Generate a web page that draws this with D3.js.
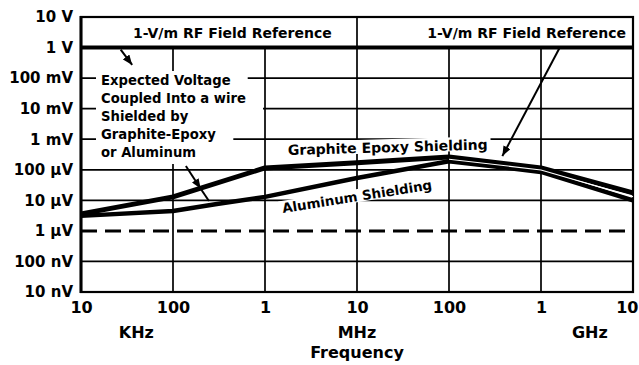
<!DOCTYPE html>
<html>
<head>
<meta charset="utf-8">
<script src="https://cdn.jsdelivr.net/npm/d3@7/dist/d3.min.js"></script>
<style>
  html, body { margin: 0; padding: 0; background: #fff; }
  svg { display: block; }
</style>
</head>
<body>
<svg id="chart" width="639" height="365"></svg>
<script>
// ---- data -------------------------------------------------------------
const freqTicks  = [1e4, 1e5, 1e6, 1e7, 1e8, 1e9, 1e10];          // Hz
const freqLabels = ["10", "100", "1", "10", "100", "1", "10"];
const unitLabels = ["KHz", "MHz", "GHz"];
const unitFreqs  = [4e4, 1e7, 3.4e9];

const voltTicks  = [10, 1, 0.1, 0.01, 1e-3, 1e-4, 1e-5, 1e-6, 1e-7, 1e-8];
const voltLabels = ["10 V", "1 V", "100 mV", "10 mV", "1 mV",
                    "100 \u03bcV", "10 \u03bcV", "1 \u03bcV", "100 nV", "10 nV"];
const gridVolts  = [0.1, 0.01, 1e-3, 1e-4, 1e-5, 1e-7];

const fieldReference = 1;      // 1-V/m RF field reference level (V)
const floorLevel     = 1e-6;   // dashed 1 µV level

// coupled voltage (V) vs frequency (Hz)
const graphiteFreq = [1e4, 1e5, 1e6, 1e7, 1e8, 1e9, 1e10];
const graphiteVolt = [3.6e-6, 1.3e-5, 1.15e-4, 1.7e-4, 2.6e-4, 1.15e-4, 1.75e-5];

const aluminumFreq = [1e4, 1e5, 3e5, 1e6, 1e7, 1e8, 1e9, 1e10];
const aluminumVolt = [3.1e-6, 4.5e-6, 7.6e-6, 1.3e-5, 5.4e-5, 1.9e-4, 8.5e-5, 1.0e-5];

const noteLines = ["Expected Voltage", "Coupled Into a wire", "Shielded by",
                   "Graphite-Epoxy", "or Aluminum"];

// ---- scales -----------------------------------------------------------
const W = 639;
const svg = d3.select("#chart");
const x = d3.scaleLog().domain([1e4, 1e10]).range([81, 633]);
const y = d3.scaleLog().domain([1e-8, 10]).range([292, 17]);
const FONT = "'DejaVu Sans', Verdana, sans-serif";

const defs = svg.append("defs");
defs.append("marker")
  .attr("id", "head").attr("viewBox", "0 0 10 8")
  .attr("refX", 10).attr("refY", 4)
  .attr("markerWidth", 10).attr("markerHeight", 8)
  .attr("markerUnits", "userSpaceOnUse").attr("orient", "auto")
  .append("path").attr("d", "M0,0L10,4L0,8Z").attr("fill", "#000");

// ---- grid -------------------------------------------------------------
const grid = svg.append("g");
grid.selectAll("line.v").data(freqTicks).join("line")
  .attr("class", "v")
  .attr("x1", d => x(d)).attr("x2", d => x(d))
  .attr("y1", y(10)).attr("y2", y(1e-8))
  .attr("stroke", "#000").attr("stroke-width", 1.7);
grid.selectAll("line.h").data(gridVolts).join("line")
  .attr("class", "h")
  .attr("x1", x(1e4)).attr("x2", x(1e10))
  .attr("y1", d => y(d)).attr("y2", d => y(d))
  .attr("stroke", "#000").attr("stroke-width", 1.7);

// ---- labels with white backing --------------------------------------
function backedText(parent, txt, size, padX, padTop, padBottom, anchor) {
  const g = parent.append("g");
  const t = g.append("text").text(txt)
    .attr("font-family", FONT).attr("font-weight", "bold")
    .attr("font-size", size).attr("text-anchor", anchor || "start")
    .attr("fill", "#000");
  const b = t.node().getBBox();
  g.insert("rect", () => t.node())
    .attr("x", b.x - padX[0]).attr("y", b.y - padTop)
    .attr("width", b.width + padX[0] + padX[1])
    .attr("height", b.height + padTop + padBottom)
    .attr("fill", "#fff");
  return g;
}

// header labels between the 10 V border and the 1 V reference
const headerY = 38;
const hdr1 = backedText(svg, "1-V/m RF Field Reference", 14, [6, 6], 8, 6, "start");
hdr1.attr("transform", `translate(133,${headerY})`);
const hdr2 = backedText(svg, "1-V/m RF Field Reference", 14, [6, 6], 8, 6, "end");
hdr2.attr("transform", `translate(626,${headerY})`);

// explanatory note on the left
const note = svg.append("g");
const noteRects = note.append("g");
const noteTexts = note.append("g");
noteLines.forEach((line, i) => {
  const t = noteTexts.append("text").text(line)
    .attr("x", 101).attr("y", 85 + i * 18)
    .attr("font-family", FONT).attr("font-weight", "bold")
    .attr("font-size", 13.2).attr("fill", "#000");
  const b = t.node().getBBox();
  noteRects.append("rect")
    .attr("x", b.x - 5).attr("y", b.y - 2)
    .attr("width", b.width + 22).attr("height", b.height + 6)
    .attr("fill", "#fff");
});

// curve labels
const gLab = backedText(svg, "Graphite Epoxy Shielding", 14, [3, 3], 0, -2);
gLab.attr("transform", "translate(288,155) rotate(-1.6)");
const aLab = backedText(svg, "Aluminum Shielding", 13.4, [3, 3], 0, -2);
aLab.attr("transform", "translate(283,213) rotate(-9)");

// ---- reference levels -----------------------------------------------
svg.append("line")
  .attr("x1", x(1e4)).attr("x2", x(1e10))
  .attr("y1", y(fieldReference)).attr("y2", y(fieldReference))
  .attr("stroke", "#000").attr("stroke-width", 4);
svg.append("line")
  .attr("x1", x(1e4)).attr("x2", x(1e10))
  .attr("y1", y(floorLevel)).attr("y2", y(floorLevel))
  .attr("stroke", "#000").attr("stroke-width", 3)
  .attr("stroke-dasharray", "16,8");

// ---- frame -------------------------------------------------------------
svg.append("rect")
  .attr("x", x(1e4)).attr("y", y(10))
  .attr("width", x(1e10) - x(1e4)).attr("height", y(1e-8) - y(10))
  .attr("fill", "none").attr("stroke", "#000").attr("stroke-width", 2.2);
svg.append("line")
  .attr("x1", x(1e4)).attr("x2", x(1e4)).attr("y1", y(10) - 1).attr("y2", y(1e-8) + 1)
  .attr("stroke", "#000").attr("stroke-width", 3);

// ---- curves -------------------------------------------------------------
const line = d3.line().x(d => x(d[0])).y(d => y(d[1])).curve(d3.curveLinear);
const aluminum = aluminumFreq.map((f, i) => [f, aluminumVolt[i]]);
const graphite = graphiteFreq.map((f, i) => [f, graphiteVolt[i]]);

svg.append("path").datum(aluminum).attr("d", line)
  .attr("fill", "none").attr("stroke", "#000").attr("stroke-width", 4.5)
  .attr("stroke-linejoin", "round").attr("stroke-linecap", "butt");
svg.append("path").datum(graphite).attr("d", line)
  .attr("fill", "none").attr("stroke", "#000").attr("stroke-width", 5)
  .attr("stroke-linejoin", "round").attr("stroke-linecap", "butt");

// thin light seam where the two curves run together above 100 MHz
const seam = graphiteFreq
  .filter(f => f >= 1e8 && aluminumFreq.includes(f))
  .map(f => {
    const g = graphiteVolt[graphiteFreq.indexOf(f)];
    const a = aluminumVolt[aluminumFreq.indexOf(f)];
    return [x(f), (y(g) + y(a)) / 2];
  });
svg.append("path").attr("d", d3.line()(seam))
  .attr("fill", "none").attr("stroke", "#fff").attr("stroke-width", 1.1);

// ---- arrows ---------------------------------------------------------------
const arrows = [
  { from: [2.7e4, 0.85],     to: [3.6e4, 0.27] },
  { from: [1.38e5, 1.33e-4], to: [2.0e5, 2.4e-5], tail: [2.46e5, 9.5e-6] },
  { from: [1.6e9, 1],        to: [3.8e8, 2.8e-4] }
];
arrows.forEach(a => {
  svg.append("line")
    .attr("x1", x(a.from[0])).attr("y1", y(a.from[1]))
    .attr("x2", x(a.to[0])).attr("y2", y(a.to[1]))
    .attr("stroke", "#000").attr("stroke-width", 2)
    .attr("marker-end", "url(#head)");
  if (a.tail) {
    svg.append("line")
      .attr("x1", x(a.to[0])).attr("y1", y(a.to[1]))
      .attr("x2", x(a.tail[0])).attr("y2", y(a.tail[1]))
      .attr("stroke", "#000").attr("stroke-width", 2);
  }
});

// ---- axes ---------------------------------------------------------------
const yAxis = d3.axisLeft(y).tickValues(voltTicks)
  .tickFormat((d, i) => voltLabels[i]).tickSize(0).tickPadding(8);
const yg = svg.append("g").attr("transform", `translate(${x(1e4)},0)`).call(yAxis);
yg.select(".domain").remove();
yg.selectAll("text").attr("font-family", FONT).attr("font-weight", "bold")
  .attr("font-size", 15).attr("fill", "#000");

const xAxis = d3.axisBottom(x).tickValues(freqTicks)
  .tickFormat((d, i) => freqLabels[i]).tickSize(0).tickPadding(10);
const xg = svg.append("g").attr("transform", `translate(0,${y(1e-8)})`).call(xAxis);
xg.select(".domain").remove();
xg.selectAll("text").attr("font-family", FONT).attr("font-weight", "bold")
  .attr("font-size", 16).attr("fill", "#000");
// keep the last frequency label inside the page edge
xg.selectAll(".tick text").filter(d => d === 1e10)
  .attr("text-anchor", "end").attr("x", W - 1 - x(1e10));

svg.append("g").selectAll("text").data(unitLabels).join("text")
  .attr("x", (d, i) => x(unitFreqs[i])).attr("y", 338)
  .attr("text-anchor", "middle")
  .attr("font-family", FONT).attr("font-weight", "bold").attr("font-size", 16)
  .text(d => d);

svg.append("text")
  .attr("x", x(1e7)).attr("y", 358).attr("text-anchor", "middle")
  .attr("font-family", FONT).attr("font-weight", "bold").attr("font-size", 16)
  .text("Frequency");
</script>
</body>
</html>
